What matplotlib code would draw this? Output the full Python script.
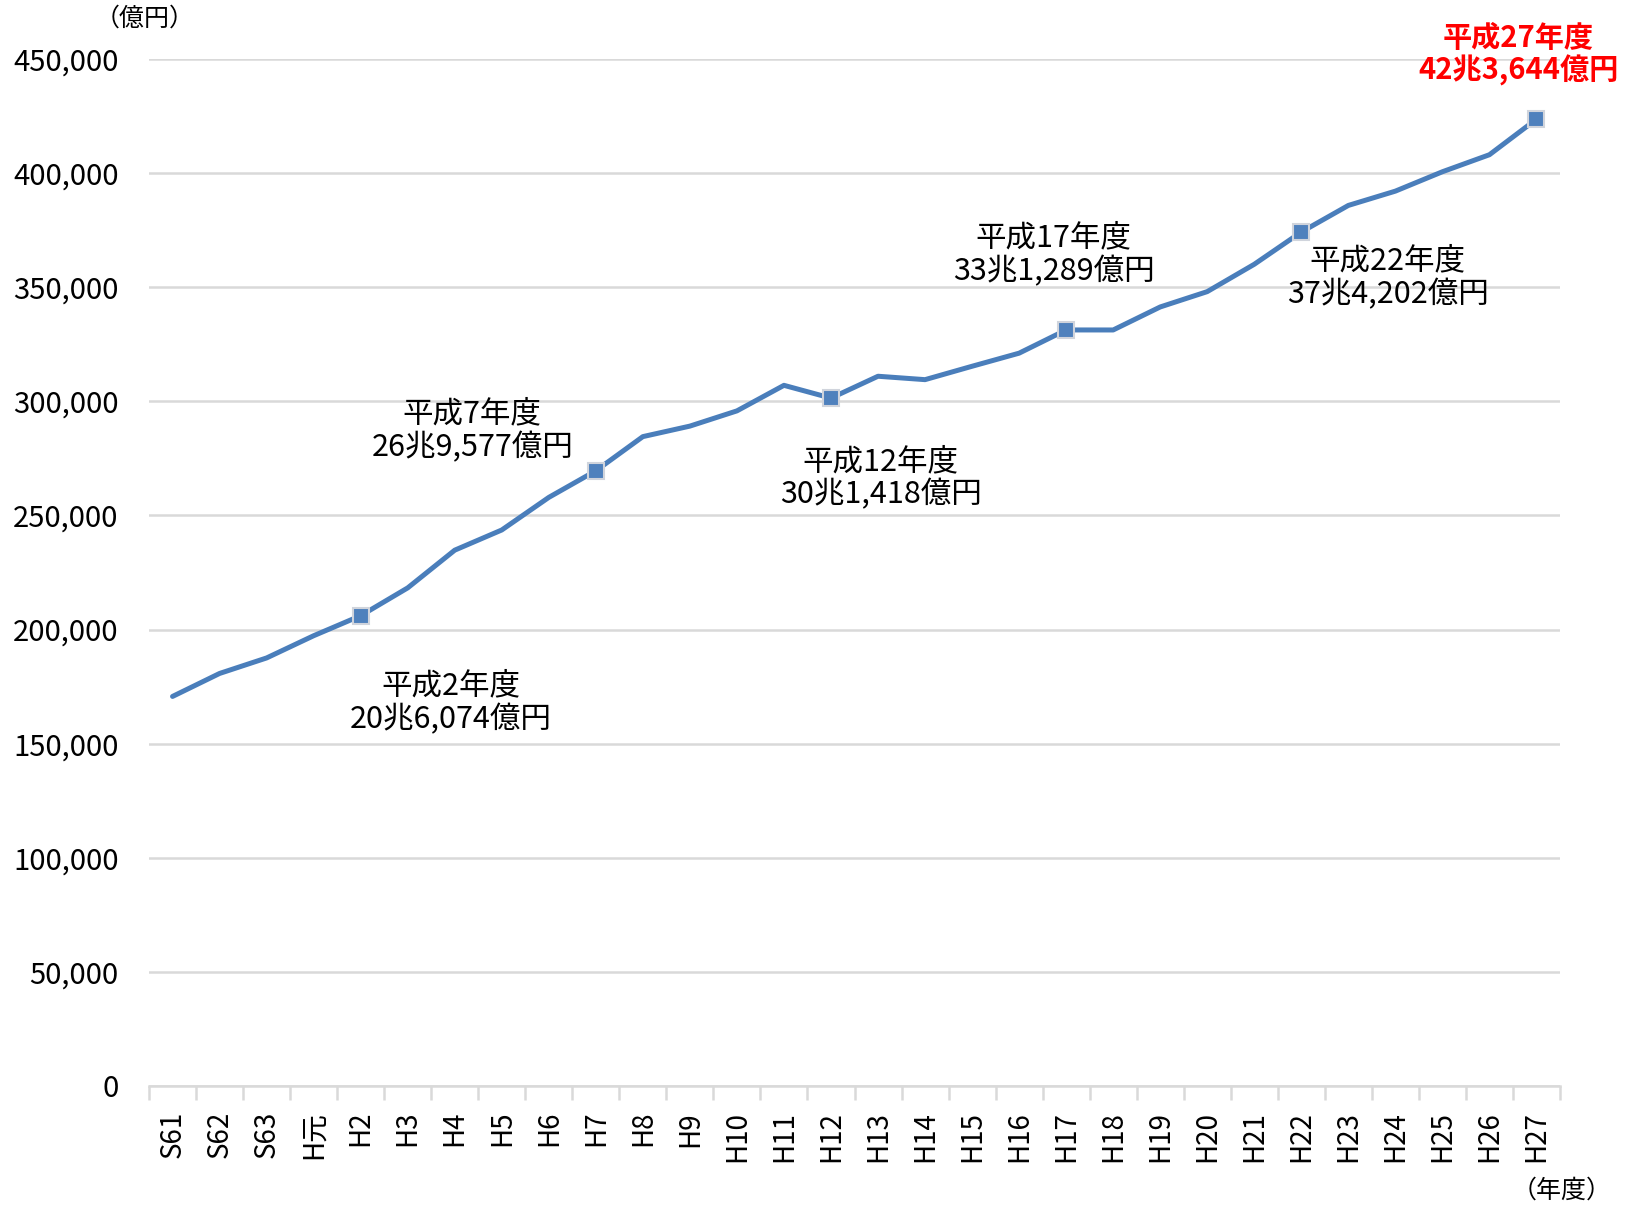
import matplotlib
matplotlib.use("Agg")
import matplotlib.pyplot as plt
import numpy as np
from matplotlib.ticker import FuncFormatter, MultipleLocator, FixedLocator

plt.rcParams['font.family'] = ['Noto Sans CJK JP', 'DejaVu Sans']

years = ["S61", "S62", "S63", "H元", "H2", "H3", "H4", "H5", "H6", "H7",
         "H8", "H9", "H10", "H11", "H12", "H13", "H14", "H15", "H16", "H17",
         "H18", "H19", "H20", "H21", "H22", "H23", "H24", "H25", "H26", "H27"]
values = [170690, 180759, 187554, 197290, 206074, 218260, 234784, 243631, 257908, 269577,
          284542, 289149, 295823, 307019, 301418, 310998, 309507, 315375, 321111, 331289,
          331276, 341360, 348084, 360067, 374202, 385850, 392117, 400610, 408071, 423644]
marked = ["H2", "H7", "H12", "H17", "H22", "H27"]
labels = ["平成2年度\n20兆6,074億円", "平成7年度\n26兆9,577億円", "平成12年度\n30兆1,418億円",
          "平成17年度\n33兆1,289億円", "平成22年度\n37兆4,202億円", "平成27年度\n42兆3,644億円"]
label_pos = [(5.92, 168000), (6.37, 287000), (15.06, 266300),
             (18.73, 364300), (25.84, 354000), (28.62, 452000)]

fig = plt.figure(figsize=(16.27, 12.05), dpi=100)
ax = fig.add_axes([0.0916, 0.0988, 0.8672, 0.8522])

x = np.arange(len(years))
line_color = "#4A7EBB"
ax.plot(x, values, color=line_color, lw=3.6, solid_capstyle='round', zorder=3)
mi = [years.index(m) for m in marked]
ax.plot(mi, [values[i] for i in mi], ls='none', marker='s', ms=12,
        mfc="#4F81BD", mec="#D0D4DC", mew=1.5, zorder=4)

ax.set_xlim(-0.5, len(years) - 0.5)
ax.set_ylim(0, 450000)
ax.yaxis.set_major_locator(MultipleLocator(50000))
ax.yaxis.set_major_formatter(FuncFormatter(lambda v, p: f"{int(v):,}"))
ax.grid(axis='y', color="#D9D9D9", lw=1.8, zorder=0)
ax.set_axisbelow(True)

ax.xaxis.set_major_locator(FixedLocator(np.arange(-0.5, len(years), 1.0)))
ax.xaxis.set_major_formatter(plt.NullFormatter())
ax.xaxis.set_minor_locator(FixedLocator(x))
ax.set_xticks(x, years, minor=True)
ax.tick_params(axis='x', which='major', length=10, width=1.8, color="#D9D9D9", direction='out')
ax.tick_params(axis='x', which='minor', length=0, pad=18, labelsize=20, labelrotation=90)
ax.tick_params(axis='y', length=0, pad=22, labelsize=21)

for s in ['top', 'right', 'left']:
    ax.spines[s].set_visible(False)
ax.spines['bottom'].set_color("#D9D9D9")
ax.spines['bottom'].set_linewidth(1.8)

for i, (lab, (px, py)) in enumerate(zip(labels, label_pos)):
    last = (i == len(labels) - 1)
    ax.text(px, py, lab, ha='center', va='center', fontsize=21 if last else 22,
            color='red' if last else 'black', fontweight='bold' if last else 'normal',
            linespacing=1.05 if last else 1.1, clip_on=False)

fig.text(145 / 1627, 1 - 19 / 1205, "（億円）", ha='center', va='center', fontsize=18)
fig.text(1562 / 1627, 1 - 1191 / 1205, "（年度）", ha='center', va='center', fontsize=18)

fig.savefig("out.png", dpi=100)
